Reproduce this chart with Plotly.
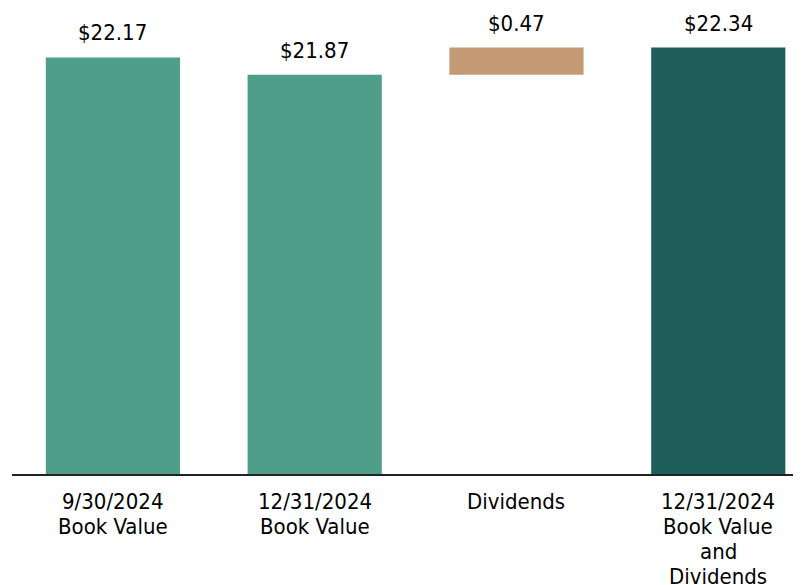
import plotly.graph_objects as go

# chart data
categories = [
    "9/30/2024<br>Book Value",
    "12/31/2024<br>Book Value",
    "Dividends",
    "12/31/2024<br>Book Value<br>and<br>Dividends",
]
bar_base = [0, 0, 21.87, 0]
bar_height = [22.17, 21.87, 0.47, 22.34]
value_labels = ["$22.17", "$21.87", "$0.47", "$22.34"]
bar_colors = ["#4e9e8a", "#4e9e8a", "#c49a74", "#1e5e5b"]

FONT = "DejaVu Sans Condensed, DejaVu Sans, sans-serif"
Y_MIN = 15

fig = go.Figure()

fig.add_trace(
    go.Bar(
        x=categories,
        y=bar_height,
        base=bar_base,
        marker=dict(color=bar_colors, line=dict(width=0)),
        width=0.665,
        hoverinfo="skip",
    )
)

# value labels above each bar
for cat, b, h, lab in zip(categories, bar_base, bar_height, value_labels):
    fig.add_annotation(
        x=cat,
        y=b + h,
        text=lab,
        showarrow=False,
        yanchor="bottom",
        yshift=10,
        font=dict(size=22, color="black", family=FONT),
    )

# category labels under the axis, one line at a time (tight leading)
for cat in categories:
    for i, line in enumerate(cat.split("<br>")):
        fig.add_annotation(
            x=cat,
            y=Y_MIN,
            text=line,
            showarrow=False,
            yanchor="middle",
            yshift=-(27 + i * 25.3),
            font=dict(size=22, color="black", family=FONT),
        )

fig.update_layout(
    width=793,
    height=577,
    margin=dict(l=4, r=0, t=0, b=111),
    plot_bgcolor="white",
    paper_bgcolor="white",
    showlegend=False,
    font=dict(family=FONT, color="black"),
)

fig.update_xaxes(
    range=[-0.5, 3.41],
    showline=True,
    linecolor="#222222",
    linewidth=2,
    ticks="",
    showgrid=False,
    showticklabels=False,
)

fig.update_yaxes(
    range=[Y_MIN, 23.02],
    visible=False,
    showgrid=False,
)

fig.write_html("out.html")
